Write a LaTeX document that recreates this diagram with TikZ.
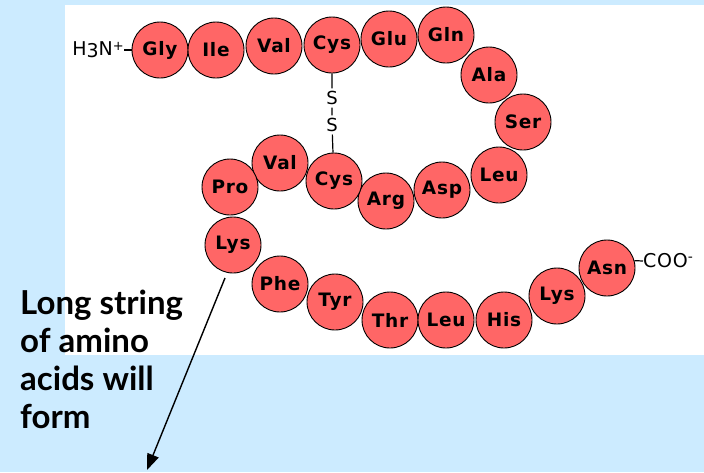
\documentclass[tikz,border=0pt]{standalone}
\usepackage{fontspec}
\usetikzlibrary{arrows.meta}
\newfontfamily\aafont{DejaVu Sans}[LetterSpace=4]
\newfontfamily\notefont{Lato}
\definecolor{aared}{RGB}{255,102,102}
\definecolor{skyback}{RGB}{204,235,255}
\tikzset{
  acid/.style={circle, draw=black, line width=0.9pt, fill=aared, minimum size=56pt,
    inner sep=0pt, font=\aafont\bfseries\fontsize{18.5}{18.5}\selectfont},
  sulfur/.style={inner xsep=1pt, inner ysep=2.5pt, font=\aafont\fontsize{18}{18}\selectfont},
  endlabel/.style={inner sep=0pt, font=\aafont\fontsize{19}{19}\selectfont},
  bond/.style={line width=1.2pt},
  pointer/.style={line width=1.4pt, -{Triangle[length=16pt,width=12pt]}},
}
\begin{document}
\begin{tikzpicture}[x=1pt, y=-1pt]
  % backdrop: pale blue page with white panel behind the chain
  \fill[skyback] (0,0) rectangle (704,472);
  \fill[white] (65,5) rectangle (704,355);
  \useasboundingbox (0,0) rectangle (704,472);

  % N-terminal strand
  \node[acid] (gly) at (160,50) {Gly};
  \node[acid] (ile) at (216,50) {Ile};
  \node[acid] (val1) at (274,46) {Val};
  \node[acid] (cys1) at (332,45) {Cys};
  \node[acid] (glu) at (389,39) {Glu};
  \node[acid] (gln) at (446,35) {Gln};
  \node[acid] (ala) at (489,75) {Ala};
  \node[acid] (ser) at (523,122) {Ser};
  \node[acid] (leu1) at (499,175) {Leu};
  \node[acid] (asp) at (442,190) {Asp};
  \node[acid] (arg) at (386,201) {Arg};
  \node[acid] (cys2) at (334,181) {Cys};
  \node[acid] (val2) at (280,163) {Val};
  \node[acid] (pro) at (230,187) {Pro};
  \node[acid] (lys1) at (233,245) {Lys};
  \node[acid] (phe) at (280,284) {Phe};
  \node[acid] (tyr) at (335,302) {Tyr};
  \node[acid] (thr) at (390,320) {Thr};
  \node[acid] (leu2) at (446,320) {Leu};
  \node[acid] (his) at (504,320) {His};
  \node[acid] (lys2) at (557,296) {Lys};
  \node[acid] (asn) at (607,268) {Asn};

  % termini
  \node[endlabel, anchor=east] (nterm) at (124,50) {H\raisebox{-2pt}{3}N\raisebox{5pt}{\fontsize{13}{13}\selectfont+}};
  \draw[bond] (nterm.east) -- (gly.west);
  \node[endlabel, anchor=west] (cterm) at (643,261) {COO\raisebox{6pt}{\fontsize{14}{14}\selectfont-}};
  \draw[bond] (asn.15) -- (cterm.west);

  % disulfide bridge
  \node[sulfur] (s1) at (332,98) {S};
  \node[sulfur] (s2) at (332,125) {S};
  \draw[bond] (cys1) -- (s1) -- (s2) -- (cys2);

  % note and arrow
  \node[anchor=north west, align=left, inner sep=0pt,
        font=\notefont\bfseries\fontsize{33}{38}\selectfont] (note) at (20,290)
        {Long string\\of amino\\acids will\\form};
  \coordinate (tail) at (225,278);
  \coordinate (tip) at (147,470);
  \draw[pointer] (tail) -- (tip);
\end{tikzpicture}
\end{document}
